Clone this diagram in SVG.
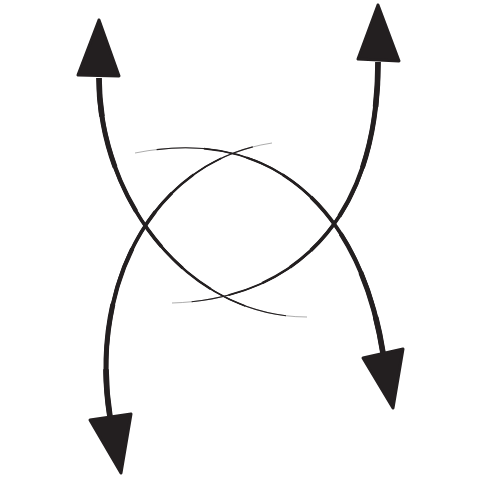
<svg xmlns="http://www.w3.org/2000/svg" xmlns:xlink="http://www.w3.org/1999/xlink" width="480" height="480" viewBox="0 0 480 480">
<style>
.bg{fill:#ffffff}
.head{fill:#231f20;stroke:#231f20;stroke-width:3;stroke-linejoin:round}
use{fill:none;stroke:#231f20;stroke-linecap:butt}
.w0{stroke:#8a8a8a;stroke-width:0.7}
.w1{stroke-width:1.2}
.w2{stroke-width:1.7}
.w3{stroke-width:2.3}
.w4{stroke-width:2.9}
.w5{stroke-width:3.6}
.w6{stroke-width:4.3}
.w7{stroke-width:5}
.w8{stroke-width:5.6}
</style>
<defs>
<path id="cA" pathLength="100" d="M99,78 C99,198 187,317 307,317"/>
<path id="cB" pathLength="100" d="M378,62 C378,232 282,300 172,303"/>
<path id="cC" pathLength="100" d="M110,417 C89,286 152,161 272,143"/>
<path id="cD" pathLength="100" d="M383,353 C361,213 275,125 135,153"/>
</defs>
<rect class="bg" x="0" y="0" width="480" height="480"/>
<g id="connectors">
<g id="arrow-top-left">
<use href="#cA" class="w0"/>
<use href="#cA" class="w1" stroke-dasharray="94 200"/>
<use href="#cA" class="w2" stroke-dasharray="82 200"/>
<use href="#cA" class="w3" stroke-dasharray="71 200"/>
<use href="#cA" class="w4" stroke-dasharray="61 200"/>
<use href="#cA" class="w5" stroke-dasharray="52.4 200"/>
<use href="#cA" class="w6" stroke-dasharray="40 200"/>
<use href="#cA" class="w7" stroke-dasharray="26 200"/>
<use href="#cA" class="w8" stroke-dasharray="11 200"/>
<polygon class="head" points="99,20 78,75 119,76"/>
</g>
<g id="arrow-top-right">
<use href="#cB" class="w0"/>
<use href="#cB" class="w1" stroke-dasharray="94.5 200"/>
<use href="#cB" class="w2" stroke-dasharray="84 200"/>
<use href="#cB" class="w3" stroke-dasharray="74 200"/>
<use href="#cB" class="w4" stroke-dasharray="65 200"/>
<use href="#cB" class="w5" stroke-dasharray="57.5 200"/>
<use href="#cB" class="w6" stroke-dasharray="45 200"/>
<use href="#cB" class="w7" stroke-dasharray="30 200"/>
<use href="#cB" class="w8" stroke-dasharray="12.5 200"/>
<polygon class="head" points="378,5 358,59 399,61"/>
</g>
<g id="arrow-bottom-left">
<use href="#cC" class="w0"/>
<use href="#cC" class="w1" stroke-dasharray="94.5 200"/>
<use href="#cC" class="w2" stroke-dasharray="85 200"/>
<use href="#cC" class="w3" stroke-dasharray="76 200"/>
<use href="#cC" class="w4" stroke-dasharray="68 200"/>
<use href="#cC" class="w5" stroke-dasharray="60.9 200"/>
<use href="#cC" class="w6" stroke-dasharray="48.6 200"/>
<use href="#cC" class="w7" stroke-dasharray="32 200"/>
<use href="#cC" class="w8" stroke-dasharray="13.5 200"/>
<polygon class="head" points="90,420 131,414 121,473"/>
</g>
<g id="arrow-bottom-right">
<use href="#cD" class="w0"/>
<use href="#cD" class="w1" stroke-dasharray="94 200"/>
<use href="#cD" class="w2" stroke-dasharray="81 200"/>
<use href="#cD" class="w3" stroke-dasharray="69 200"/>
<use href="#cD" class="w4" stroke-dasharray="58 200"/>
<use href="#cD" class="w5" stroke-dasharray="48 200"/>
<use href="#cD" class="w6" stroke-dasharray="35 200"/>
<use href="#cD" class="w7" stroke-dasharray="23 200"/>
<use href="#cD" class="w8" stroke-dasharray="10 200"/>
<polygon class="head" points="363,358 403,349 393,408"/>
</g>
</g>
</svg>
